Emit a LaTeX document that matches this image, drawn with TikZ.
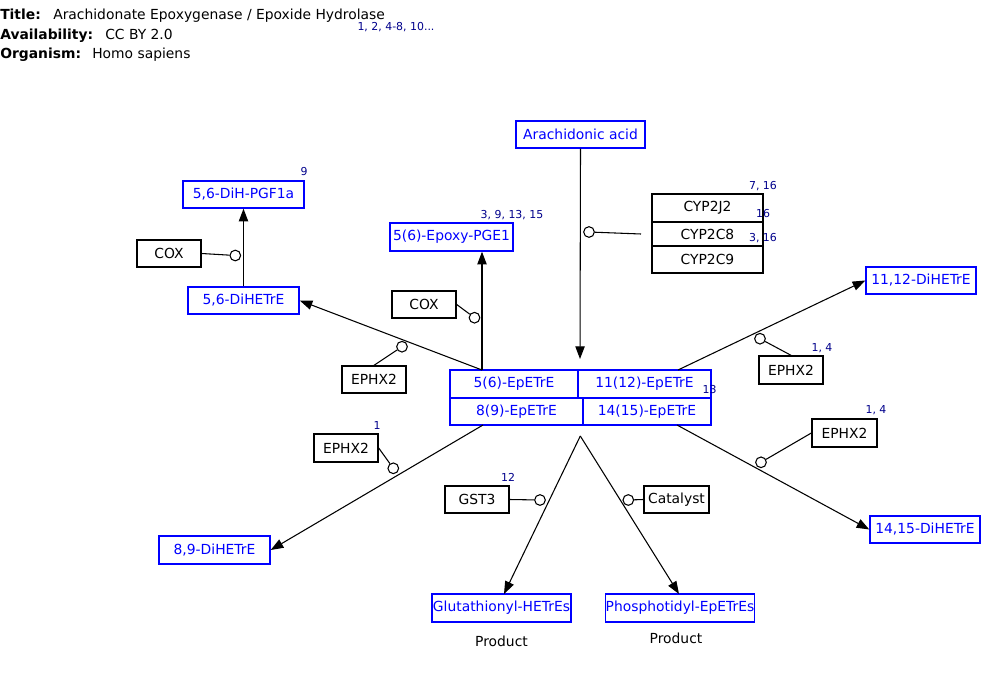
\documentclass[tikz,border=0pt]{standalone}
\usepackage{fontspec}
\setmainfont{DejaVu Sans}
\usetikzlibrary{arrows.meta}
\definecolor{metblue}{RGB}{0,0,255}
\definecolor{refnum}{RGB}{0,0,140}
\begin{document}
\begin{tikzpicture}[x=0.75pt,y=-0.75pt,
  every node/.style={font=\fontsize{10.4}{12}\selectfont, inner sep=0pt},
  sz/.style 2 args={minimum width={#1*0.75pt}, minimum height={#2*0.75pt}},
  gene/.style={draw=black, line width=1.05pt},
  met/.style={draw=metblue, text=metblue, line width=1.05pt},
  refs/.style={text=refnum, font=\fontsize{8.2}{9}\selectfont},
  lbl/.style={anchor=base west},
  hub/.style={circle, draw=black, fill=white, line width=0.8pt, minimum size=8pt},
  conn/.style={draw=black, line width=0.8pt},
  arr/.style={conn, -{Triangle[length=9.5pt,width=7pt]}}]
\useasboundingbox (0,0) rectangle (1000,675);
\fill[white] (0,0) rectangle (1000,675);

% header
\node[lbl, font=\fontsize{10.4}{12}\selectfont\bfseries] (tl) at (0,19.3) {Title:};
\node[lbl] (tv) at (53,19.3) {Arachidonate Epoxygenase / Epoxide Hydrolase};
\node[lbl, font=\fontsize{10.4}{12}\selectfont\bfseries] (al) at (0,39) {Availability:};
\node[lbl] (av) at (105,39) {CC BY 2.0};
\node[lbl, font=\fontsize{10.4}{12}\selectfont\bfseries] (ol) at (0,58) {Organism:};
\node[lbl] (ov) at (92,58) {Homo sapiens};
\node[refs] (r0) at (396,27) {1, 2, 4-8, 10...};

% metabolites
\node[met, sz={129}{27}] (aa) at (580.5,134.5) {Arachidonic acid};
\node[met, sz={128}{28}] (e56) at (514,384) {5(6)-EpETrE};
\node[met, sz={133}{28}] (e1112) at (644.5,384) {11(12)-EpETrE};
\node[met, sz={133}{27}] (e89) at (516.5,411.5) {8(9)-EpETrE};
\node[met, sz={128}{27}] (e1415) at (647,411.5) {14(15)-EpETrE};
\node[met, sz={123}{28}] (pge1) at (451.5,237) {5(6)-Epoxy-PGE1};
\node[met, sz={111}{27}] (d56) at (243.5,300.5) {5,6-DiHETrE};
\node[met, sz={121}{27}] (pgf) at (243.5,194.5) {5,6-DiH-PGF1a};
\node[met, sz={111}{28}] (d89) at (214.5,550) {8,9-DiHETrE};
\node[met, sz={110}{27}] (d1112) at (921,280.5) {11,12-DiHETrE};
\node[met, sz={110}{27}] (d1415) at (925,529.5) {14,15-DiHETrE};
\node[met, sz={139}{28}] (glut) at (501.5,608) {Glutathionyl-HETrEs};
\node[met, sz={146}{28}] (phos) at (680,608) {Phosphotidyl-EpETrEs};

% genes
\node[gene, sz={111}{28}] (cyp2j2) at (707.5,208) {CYP2J2};
\node[gene, sz={111}{24}] (cyp2c8) at (707.5,234) {CYP2C8};
\node[gene, sz={111}{27}] (cyp2c9) at (707.5,259.5) {CYP2C9};
\node[gene, sz={64}{27}] (cox1) at (424,304.5) {COX};
\node[gene, sz={64}{27}] (cox2) at (169,253.5) {COX};
\node[gene, sz={64}{27}] (ephxa) at (374,379.5) {EPHX2};
\node[gene, sz={64}{28}] (ephxb) at (346,448) {EPHX2};
\node[gene, sz={64}{28}] (ephxc) at (791,370) {EPHX2};
\node[gene, sz={65}{28}] (ephxd) at (844.5,433) {EPHX2};
\node[gene, sz={64}{27}] (gst3) at (477,499.5) {GST3};
\node[gene, sz={65}{27}] (cat) at (676.5,499.5) {Catalyst};

% reference numbers
\node[refs] (r1) at (304,172) {9};
\node[refs] (r2) at (512,215) {3, 9, 13, 15};
\node[refs] (r3) at (763,186) {7, 16};
\node[refs] (r4) at (763,214) {16};
\node[refs] (r5) at (763,238) {3, 16};
\node[refs] (r6) at (709.5,390) {13};
\node[refs] (r7) at (822,348.5) {1, 4};
\node[refs] (r8) at (876,410.5) {1, 4};
\node[refs] (r9) at (377,425.5) {1};
\node[refs] (r10) at (508,477) {12};
\node (p1) at (501.5,641) {Product};
\node (p2) at (676,638) {Product};

% anchor coordinates
\coordinate (aaend) at (580,359);
\coordinate (cypin) at (641,234);
\coordinate (e56top) at (482,370);
\coordinate (e89bot) at (483,425);
\coordinate (e1112top) at (678,370);
\coordinate (e1415bot) at (677,425);
\coordinate (apex) at (580.3,436);
\coordinate (glutin) at (504,594);
\coordinate (phosin) at (679,594);

% catalysis circles
\node[hub] (c1) at (589,232) {};
\node[hub] (c2) at (474.5,317.7) {};
\node[hub] (c3) at (402,346.7) {};
\node[hub] (c4) at (235.3,255.5) {};
\node[hub] (c5) at (393.3,468.3) {};
\node[hub] (c6) at (760,338.7) {};
\node[hub] (c7) at (761,462.3) {};
\node[hub] (c8) at (540,500) {};
\node[hub] (c9) at (628.3,500) {};

% reactions
\draw[arr] (aa.south) -- (aaend);
\draw[arr] (e56top) -- (e56top |- pge1.south);
\draw[arr] (e56top) -- (d56.east);
\draw[arr] (d56.north) -- (pgf.south);
\draw[arr] (e89bot) -- (d89.east);
\draw[arr] (e1112top) -- (d1112.west);
\draw[arr] (e1415bot) -- (d1415.west);
\draw[arr] (apex) -- (glutin);
\draw[arr] (apex) -- (phosin);

% catalysis links
\draw[conn] (c1) -- (cypin);
\draw[conn] (cox1.east) -- (c2);
\draw[conn] (ephxa.north) -- (c3);
\draw[conn] (cox2.east) -- (c4);
\draw[conn] (ephxb.east) -- (c5);
\draw[conn] (ephxc.north) -- (c6);
\draw[conn] (ephxd.west) -- (c7);
\draw[conn] (gst3.east) -- (c8);
\draw[conn] (c9) -- (cat.west);
\end{tikzpicture}
\end{document}
